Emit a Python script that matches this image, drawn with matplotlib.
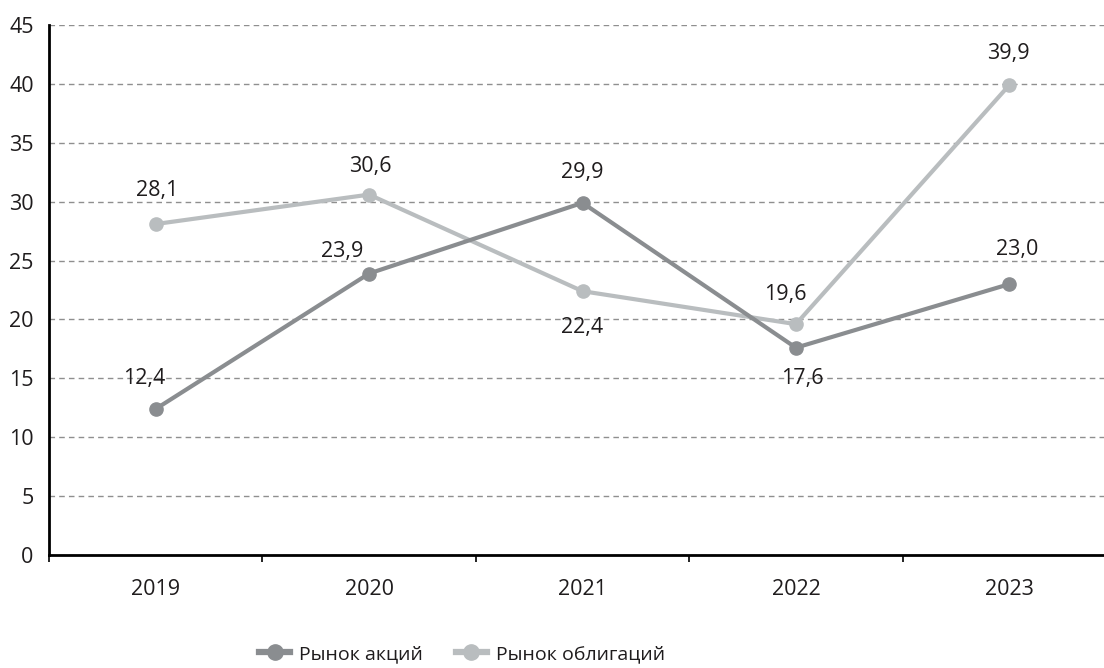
import numpy as np
import matplotlib
matplotlib.use('Agg')
import matplotlib.pyplot as plt
from matplotlib.lines import Line2D

plt.rcParams['font.family'] = ['Open Sans', 'DejaVu Sans']

# Data
years = ['2019', '2020', '2021', '2022', '2023']
stocks = [12.4, 23.9, 29.9, 17.6, 23.0]   # Рынок акций
bonds = [28.1, 30.6, 22.4, 19.6, 39.9]    # Рынок облигаций

# label offsets in pixels (dx, dy) from each point
stocks_off = [(-12, 30), (-27, 22), (0, 30), (6, -31), (8, 35)]
bonds_off = [(1, 34), (1, 28), (0, -36), (-11, 30), (-1, 32)]

c_dark = '#8a8d90'
c_light = '#b9bdbf'
txt = '#1f1c1d'
fs = 15.5

W, H = 1104, 668
fig = plt.figure(figsize=(W / 100, H / 100), dpi=100)
ax = fig.add_axes([49 / W, 1 - 555 / H, 1067 / W, 530 / H])

x = np.arange(len(years))
ax.plot(x, stocks, color=c_dark, lw=3, marker='o', ms=9.5, zorder=3)
ax.plot(x, bonds, color=c_light, lw=3, marker='o', ms=9.5, zorder=2)

def fmt(v):
    return f'{v:.1f}'.replace('.', ',')

for vals, offs in ((stocks, stocks_off), (bonds, bonds_off)):
    for xi, v, (dx, dy) in zip(x, vals, offs):
        ax.annotate(fmt(v), (xi, v), xytext=(dx, dy), textcoords='offset pixels',
                    ha='center', va='center', fontsize=fs, color=txt)

ax.set_xlim(-0.5, len(years) - 0.5)
ax.set_ylim(0, 45)
ax.set_yticks(range(0, 46, 5))
ax.set_xticks(x)
ax.set_xticklabels(years)
ax.set_xticks(np.arange(-0.5, len(years), 1), minor=True)
ax.tick_params(axis='x', which='major', length=0, pad=17, labelsize=fs, colors=txt)
ax.tick_params(axis='x', which='minor', length=5, width=1.2, direction='out', color='black')
ax.tick_params(axis='y', length=0, pad=11, labelsize=fs, colors=txt)

ax.yaxis.grid(True, ls=(0, (4, 3)), lw=1, color='#8f8f8f')
ax.set_axisbelow(True)
for s in ['top', 'right']:
    ax.spines[s].set_visible(False)
for s in ['left', 'bottom']:
    ax.spines[s].set_linewidth(2)
    ax.spines[s].set_color('black')
    ax.spines[s].set_zorder(4)

handles = [Line2D([], [], color=c_dark, lw=4.5, marker='o', ms=11),
           Line2D([], [], color=c_light, lw=4.5, marker='o', ms=11)]
fig.legend(handles, ['Рынок акций', 'Рынок облигаций'], loc='center',
           bbox_to_anchor=(462 / W, 1 - 654 / H), ncol=2, frameon=False,
           fontsize=14, handlelength=1.6, columnspacing=1.7, handletextpad=0.45,
           labelcolor=txt, borderpad=0)

fig.savefig('out.png', dpi=100)
